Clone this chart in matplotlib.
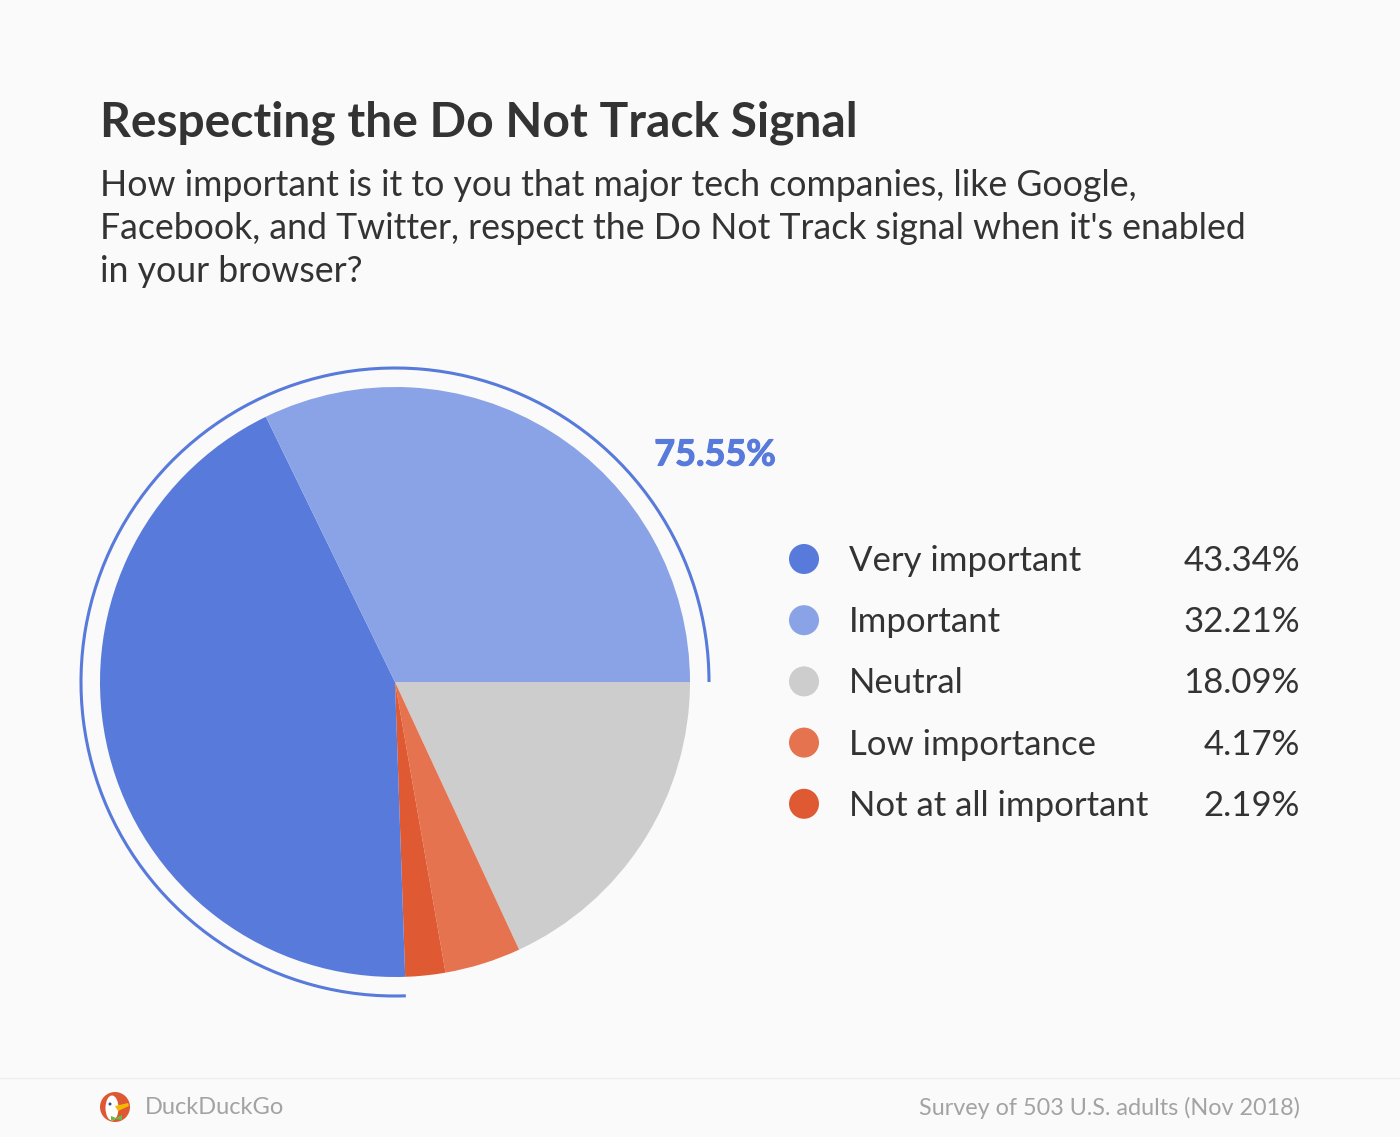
import matplotlib
matplotlib.use('Agg')
import matplotlib.pyplot as plt
import matplotlib.patheffects as pe
from matplotlib.patches import Arc, Circle, Ellipse, Polygon

plt.rcParams['font.family'] = ['Lato', 'DejaVu Sans']

title = "Respecting the Do Not Track Signal"
subtitle = ["How important is it to you that major tech companies, like Google,",
            "Facebook, and Twitter, respect the Do Not Track signal when it's enabled",
            "in your browser?"]
categories = ['Very important', 'Important', 'Neutral', 'Low importance', 'Not at all important']
values = [43.34, 32.21, 18.09, 4.17, 2.19]
value_labels = ['43.34%', '32.21%', '18.09%', '4.17%', '2.19%']
colors = ['#577adb', '#8aa2e6', '#cdcdcd', '#e6734f', '#df5a32']
arc_label = '75.55%'
source = 'Survey of 503 U.S. adults (Nov 2018)'
brand = 'DuckDuckGo'

W, H = 1400, 1137
bg = '#fafafa'
dark = '#333333'
grey = '#a3a3a3'

fig = plt.figure(figsize=(W / 100, H / 100), dpi=100, facecolor=bg)

# page axes in pixel coords, y down
page = fig.add_axes([0, 0, 1, 1])
page.set_xlim(0, W)
page.set_ylim(H, 0)
page.axis('off')

def px(size):
    return size * 0.72

page.text(100, 123, title, fontsize=px(48), fontweight='bold', color=dark, va='center')
for i, line in enumerate(subtitle):
    page.text(100, 185 + i * 43.5, line, fontsize=px(35.6), color=dark, va='center')

# pie
cx, cy, r = 395, 682, 295
pie_ax = fig.add_axes([(cx - r) / W, 1 - (cy + r) / H, 2 * r / W, 2 * r / H])
# clockwise from 3 o'clock, very important ends up on the left
order = [2, 3, 4, 0, 1]
wedges, _ = pie_ax.pie([values[i] for i in order], colors=[colors[i] for i in order],
                       startangle=0, counterclock=False, radius=1,
                       wedgeprops={'linewidth': 0})
pie_ax.set_xlim(-1, 1)
pie_ax.set_ylim(-1, 1)

# outer arc spans Very important + Important, which finish at 3 o'clock
# page y axis is inverted so the angles run negative here
arc_span = 360 * (values[0] + values[1]) / 100
page.add_patch(Arc((cx, cy), 2 * 314, 2 * 314, theta1=-arc_span, theta2=0,
                   angle=0, color=colors[0], lw=2.2))
page.text(715, 455, arc_label, fontsize=px(36), fontweight='bold', color=colors[0],
          ha='center', va='center',
          path_effects=[pe.withStroke(linewidth=0.8, foreground=colors[0])])

# legend
for i, (cat, lab) in enumerate(zip(categories, value_labels)):
    y = 559 + i * 61.2
    page.add_patch(Circle((804, y), 15, color=colors[i], lw=0))
    page.text(849, y + 2, cat, fontsize=px(34.8), color=dark, va='center')
    page.text(1300, y + 2, lab, fontsize=px(34.8), color=dark, va='center', ha='right')

# footer
page.plot([0, W], [1077.5, 1077.5], color='#eeeeee', lw=1)
page.add_patch(Circle((115, 1107), 15, color='#de5833', lw=0))
page.add_patch(Ellipse((112, 1108), 13, 25, color='white', lw=0))
page.add_patch(Polygon([(115, 1106), (128, 1103), (129, 1106), (118, 1111)], color='#f5b800', lw=0))
page.add_patch(Polygon([(111, 1116), (116, 1118), (122, 1115), (122, 1120), (116, 1119), (111, 1121)],
                       color='#65bc46', lw=0))
page.add_patch(Circle((110, 1104), 1.5, color='#2d4f8e', lw=0))
page.text(145, 1108, brand, fontsize=px(23.6), color=grey, va='center')
page.text(1300, 1108, source, fontsize=px(23.4), color=grey, va='center', ha='right')

fig.savefig('out.png', dpi=100, facecolor=bg)
